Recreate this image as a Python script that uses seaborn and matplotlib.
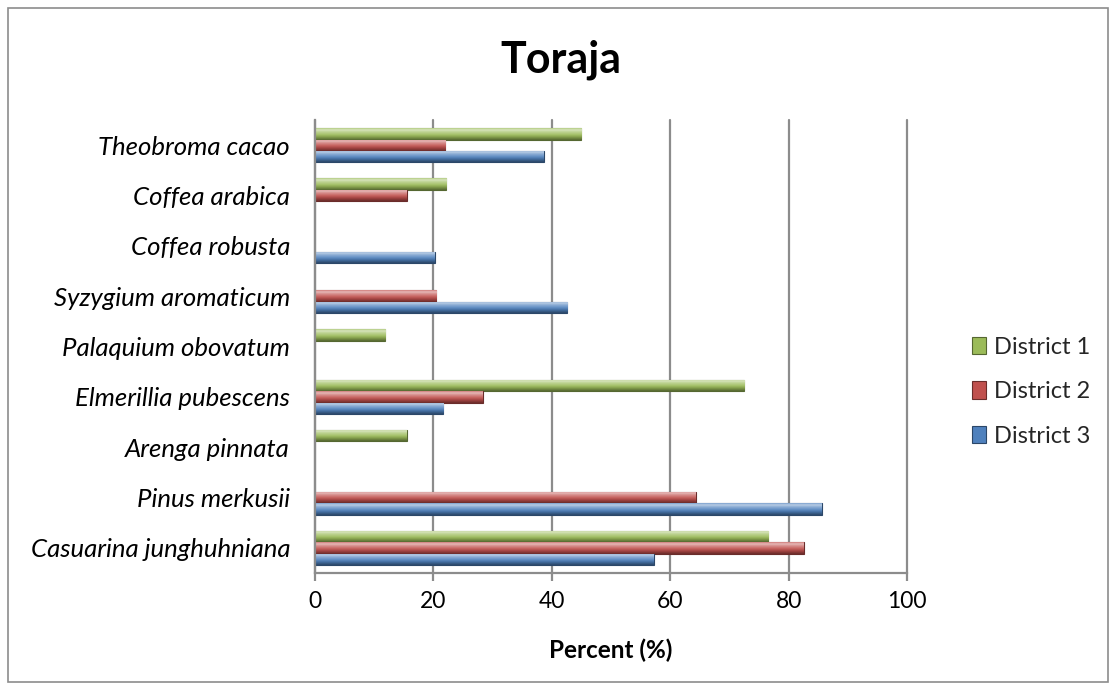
import matplotlib
matplotlib.use("Agg")
import matplotlib.pyplot as plt
import seaborn as sns
import pandas as pd
import numpy as np
from matplotlib.patches import Rectangle
from matplotlib.colors import LinearSegmentedColormap, to_rgb

species = [
    "Theobroma cacao",
    "Coffea arabica",
    "Coffea robusta",
    "Syzygium aromaticum",
    "Palaquium obovatum",
    "Elmerillia pubescens",
    "Arenga pinnata",
    "Pinus merkusii",
    "Casuarina junghuhniana",
]
district_1 = [45.0, 22.2, 0, 0, 11.9, 72.5, 15.5, 0, 76.6]
district_2 = [22.0, 15.5, 0, 20.5, 0, 28.3, 0, 64.3, 82.6]
district_3 = [38.6, 0, 20.2, 42.6, 0, 21.7, 0, 85.6, 57.2]
districts = ["District 1", "District 2", "District 3"]
colors = ["#9BBB59", "#C0504D", "#4F81BD"]

rows = []
for name, vals in zip(districts, [district_1, district_2, district_3]):
    for sp, v in zip(species, vals):
        rows.append({"Species": sp, "District": name, "Percent": v})
df = pd.DataFrame(rows)

sns.set_theme(style="white")
plt.rcParams["font.family"] = ["Lato", "DejaVu Sans"]

fig = plt.figure(figsize=(11.16, 6.9), dpi=100)
ax = fig.add_axes([0.2823, 0.1696, 0.5304, 0.6564])

sns.barplot(data=df, y="Species", x="Percent", hue="District",
            order=species, hue_order=districts, palette=colors,
            orient="h", width=0.68, saturation=1, ax=ax, legend=True,
            edgecolor="none", linewidth=0)


def shade(rgb, f):
    rgb = np.array(rgb)
    if f >= 0:
        return tuple(rgb + (1 - rgb) * f)
    return tuple(rgb * (1 + f))


# bevelled look: vertical gradient clipped to each bar
for patch in list(ax.patches):
    w = patch.get_width()
    if w <= 0:
        continue
    base = to_rgb(patch.get_facecolor())
    cmap = LinearSegmentedColormap.from_list(
        "bev", [(0.0, shade(base, 0.25)), (0.15, shade(base, 0.6)),
                (0.32, shade(base, 0.35)), (0.55, shade(base, 0.1)),
                (0.75, shade(base, -0.15)), (1.0, shade(base, -0.45))])
    x0, y0, h = patch.get_x(), patch.get_y(), patch.get_height()
    grad = np.linspace(0, 1, 64).reshape(-1, 1)
    im = ax.imshow(grad, cmap=cmap, aspect="auto", origin="upper",
                   extent=[x0, x0 + w, y0 + h, y0], zorder=patch.get_zorder() + 0.1,
                   interpolation="bilinear")
    im.set_clip_path(patch)
    patch.set_edgecolor(shade(base, -0.45))
    patch.set_linewidth(0.8)

ax.set_xlim(0, 100)
ax.set_ylim(len(species) - 0.5, -0.5)
ax.set_xticks(range(0, 101, 20))
ax.xaxis.grid(True, color="#8c8c8c", linewidth=1.6)
for gl in ax.get_xgridlines():
    gl.set_clip_on(False)
ax.set_axisbelow(True)
for side in ["top", "right"]:
    ax.spines[side].set_visible(False)
for side in ["left", "bottom"]:
    ax.spines[side].set_color("#8c8c8c")
    ax.spines[side].set_linewidth(1.6)
ax.tick_params(axis="x", which="both", bottom=True, length=6, width=1.6,
               color="#8c8c8c", labelsize=16.5, pad=7)
ax.tick_params(axis="y", length=0, labelsize=18.5, pad=18)
for lbl in ax.get_yticklabels():
    lbl.set_fontstyle("italic")
for lbl in ax.get_xticklabels() + ax.get_yticklabels():
    lbl.set_color("black")

ax.set_ylabel("")
ax.set_xlabel("Percent (%)", fontsize=17.5, fontweight="bold", labelpad=19,
              color="black")

fig.text(0.503, 0.913, "Toraja", ha="center", va="center",
         fontsize=31, fontweight="bold", color="black")

handles, labels = ax.get_legend_handles_labels()
for hd in handles:
    base = to_rgb(hd.get_facecolor())
    hd.set_edgecolor(shade(base, -0.45))
    hd.set_linewidth(0.8)
leg = ax.legend(handles, labels, loc="center left",
                bbox_to_anchor=(1.09, 0.40), frameon=False, fontsize=17,
                handlelength=0.6, handleheight=0.75, handletextpad=0.35,
                labelspacing=1.0, borderpad=0)

fig.patches.append(Rectangle((0.007, 0.011), 0.986, 0.978,
                             transform=fig.transFigure, fill=False,
                             edgecolor="#8c8c8c", linewidth=1.2))

fig.savefig("out.png", dpi=100, facecolor="white")
